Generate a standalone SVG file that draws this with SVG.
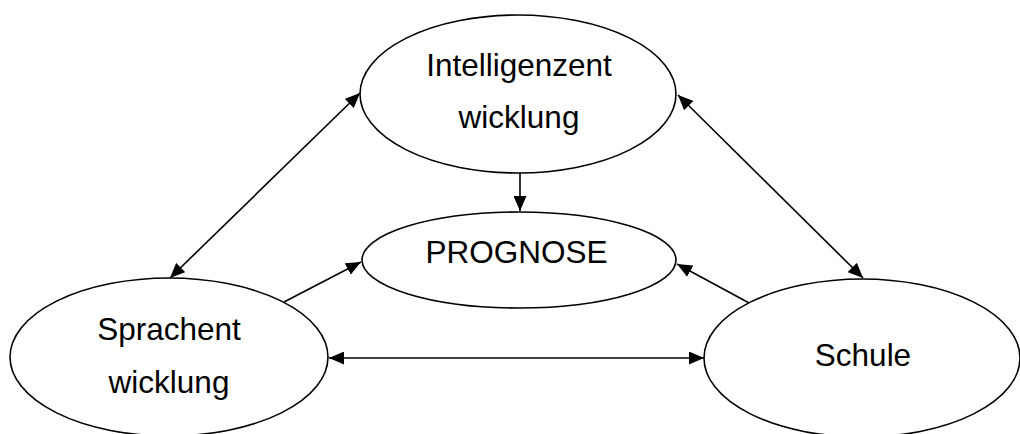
<svg xmlns="http://www.w3.org/2000/svg" width="1020" height="434" viewBox="0 0 1020 434">
<style>
.node{fill:#fff;stroke:#000;stroke-width:1.6}
.lbl{font-family:"Liberation Sans",Arial,sans-serif;font-size:31.5px;fill:#000;text-anchor:middle}
.con{stroke:#000;stroke-width:1.6;fill:none}
</style>
<defs>
<marker id="ah" markerUnits="userSpaceOnUse" markerWidth="15" markerHeight="13" refX="15" refY="6.5" orient="auto-start-reverse">
<path d="M0,0 L15,6.5 L0,13 z" fill="#000"/>
</marker>
</defs>
<rect width="1020" height="434" fill="#fff"/>
<g id="connectors">
<line class="con" x1="170" y1="278" x2="360" y2="93" marker-start="url(#ah)" marker-end="url(#ah)"/>
<line class="con" x1="678" y1="95" x2="863" y2="278" marker-start="url(#ah)" marker-end="url(#ah)"/>
<line class="con" x1="520" y1="173" x2="520" y2="211" marker-end="url(#ah)"/>
<line class="con" x1="284" y1="302" x2="361" y2="262" marker-end="url(#ah)"/>
<line class="con" x1="751" y1="304" x2="677" y2="264" marker-end="url(#ah)"/>
<line class="con" x1="329" y1="358" x2="704" y2="358" marker-start="url(#ah)" marker-end="url(#ah)"/>
</g>
<g id="intelligenz">
<ellipse class="node" cx="518" cy="94" rx="158" ry="79"/>
<text class="lbl" x="519" y="76">Intelligenzent</text>
<text class="lbl" x="519" y="128">wicklung</text>
</g>
<g id="prognose">
<ellipse class="node" cx="519" cy="260" rx="157" ry="48"/>
<text class="lbl" x="516.5" y="263">PROGNOSE</text>
</g>
<g id="sprache">
<ellipse class="node" cx="169" cy="357" rx="159" ry="79"/>
<text class="lbl" x="169" y="340">Sprachent</text>
<text class="lbl" x="169" y="393">wicklung</text>
</g>
<g id="schule">
<ellipse class="node" cx="862" cy="358" rx="158" ry="79"/>
<text class="lbl" x="863" y="366">Schule</text>
</g>
</svg>
